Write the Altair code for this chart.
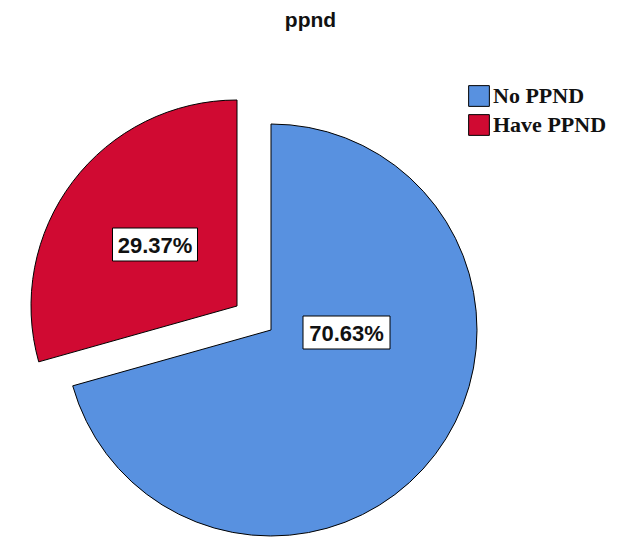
import altair as alt
import pandas as pd

categories = ["No PPND", "Have PPND"]
percents = [70.63, 29.37]
labels = ["70.63%", "29.37%"]
colors = ["#5891E0", "#D00A32"]

starts = [0.0, percents[0]]
ends = [percents[0], percents[0] + percents[1]]
df = pd.DataFrame({"category": categories, "pct": percents, "start": starts,
                   "end": ends, "label": labels})

R = 206
theta_scale = alt.Scale(domain=[0, 100], range=[0, 6.283185307])
color = alt.Color("category:N",
                  scale=alt.Scale(domain=categories, range=colors),
                  legend=alt.Legend(title=None, orient="none", legendX=460, legendY=77,
                                    symbolType="square", symbolSize=430,
                                    symbolStrokeColor="black", symbolStrokeWidth=1,
                                    labelFont="Liberation Serif", labelFontSize=22,
                                    labelFontWeight="bold", labelColor="#111",
                                    rowPadding=3, labelOffset=3))

base = alt.Chart(df)

blue = base.transform_filter(alt.datum.category == "No PPND").mark_arc(
    radius=R, stroke="black", strokeWidth=1).encode(
    theta=alt.Theta("start:Q", scale=theta_scale, stack=None),
    theta2="end:Q",
    color=color,
    x=alt.value(263), y=alt.value(322))

red = base.transform_filter(alt.datum.category == "Have PPND").mark_arc(
    radius=R, stroke="black", strokeWidth=1).encode(
    theta=alt.Theta("start:Q", scale=theta_scale, stack=None),
    theta2="end:Q",
    color=color,
    x=alt.value(229), y=alt.value(298))

def label_layer(cat, cx, cy, w):
    d = base.transform_filter(alt.datum.category == cat)
    box = d.mark_rect(fill="white", stroke="black", strokeWidth=1).encode(
        x=alt.value(cx - w / 2), x2=alt.value(cx + w / 2),
        y=alt.value(cy - 16.5), y2=alt.value(cy + 16.5))
    txt = d.mark_text(font="Liberation Sans", fontSize=22, fontWeight="bold",
                      color="#111", align="center", baseline="middle").encode(
        text="label:N", x=alt.value(cx), y=alt.value(cy + 1))
    return box + txt

chart = alt.layer(
    blue, red,
    label_layer("No PPND", 338.5, 324.5, 87),
    label_layer("Have PPND", 147, 236.5, 85),
).properties(
    width=605, height=537, padding=0, autosize=alt.AutoSizeParams(type="none"),
    title=alt.TitleParams("ppnd", font="Liberation Sans", fontSize=21,
                          fontWeight="bold", color="#111", anchor="middle",
                          baseline="top", offset=-23)
).configure_view(stroke=None)

chart.save("out.html", embed_options={"renderer": "svg", "actions": False})
